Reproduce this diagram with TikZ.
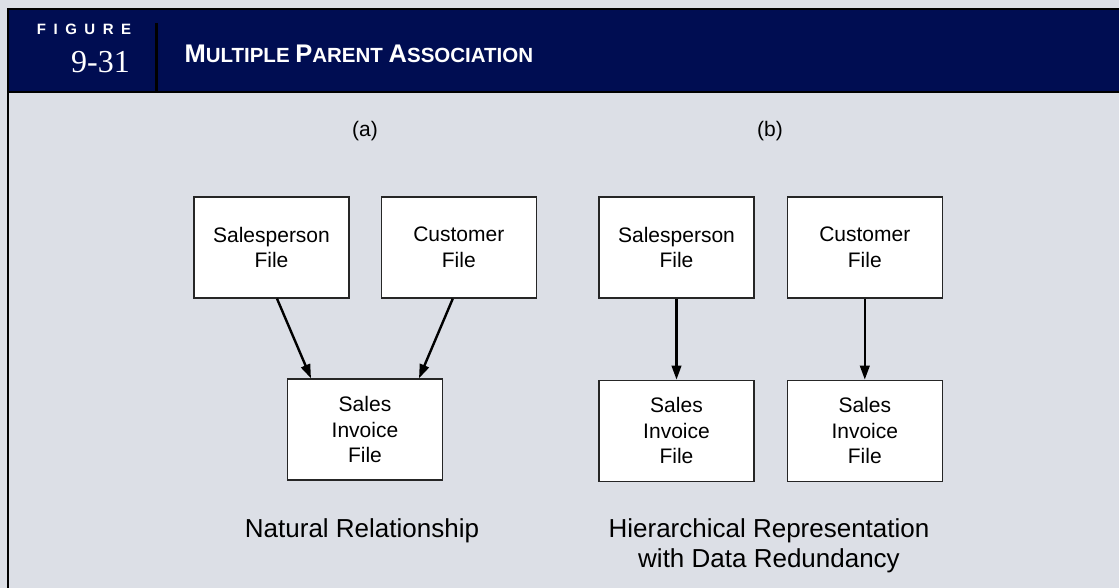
\documentclass[tikz,border=0pt]{standalone}
\usepackage{fontspec}
\setmainfont{Liberation Sans}
\newfontfamily\numfont{Liberation Serif}
\usepackage{tikz}
\usetikzlibrary{positioning, arrows.meta, calc}

\definecolor{pagegray}{RGB}{220,223,230}
\definecolor{headnavy}{RGB}{0,13,82}

\begin{document}
\begin{tikzpicture}[x=1pt, y=-1pt, >={Triangle[length=14pt,width=9.5pt]},
  filebox/.style={draw=black!85, line width=1.3pt, fill=white, minimum width=155pt, minimum height=101pt,
    inner sep=0pt, align=center, font=\fontsize{21}{25.5}\selectfont},
  link/.style={->, line width=2.4pt},
  partlabel/.style={font=\fontsize{21}{25}\selectfont},
  caption/.style={align=center, font=\fontsize{26}{30}\selectfont}]
  % page and header band
  \useasboundingbox (0,0) rectangle (1119,588);
  \fill[pagegray] (0,0) rectangle (1119,588);
  \fill[headnavy] (8,9) rectangle (1119,92);
  \draw[line width=2.5pt] (1119,9) -- (8,9) -- (8,588);
  \draw[line width=2.5pt] (8,92) -- (1119,92);
  \draw[line width=2.5pt] (156.5,23) -- (156.5,92);
  \node[text=white, font=\fontsize{15}{15}\bfseries\addfontfeatures{LetterSpace=50}] (figword) at (84,29) {FIGURE};
  \node[text=white, font=\fontsize{32}{32}\numfont] (fignum) at (100.5,62) {9-31};
  \node[text=white, anchor=west, font=\fontsize{20.5}{20.5}\bfseries] (figtitle) at (181,53.5)
    {{\fontsize{25.5}{25.5}\selectfont M}ULTIPLE {\fontsize{25.5}{25.5}\selectfont P}ARENT {\fontsize{25.5}{25.5}\selectfont A}SSOCIATION};

  % (a) natural relationship
  \node[partlabel] (labA) at (365,131) {(a)};
  \node[filebox] (salesA) at (271.5,247.5) {Salesperson\\File};
  \node[filebox, right=31pt of salesA] (custA) {Customer\\File};
  \node[filebox] (invA) at (365,429.5) {Sales\\Invoice\\File};
  \draw[link] ([xshift=5.5pt]salesA.south) -- ([xshift=-54pt]invA.north);
  \draw[link] ([xshift=-6pt]custA.south) -- ([xshift=54pt]invA.north);
  \node[caption] (capA) at (362,531) {Natural Relationship};

  % (b) hierarchical representation
  \node[partlabel] (labB) at (770,131) {(b)};
  \node[filebox] (salesB) at (676.5,247.5) {Salesperson\\File};
  \node[filebox, right=32pt of salesB] (custB) {Customer\\File};
  \node[filebox, below=81pt of salesB] (invB) {Sales\\Invoice\\File};
  \node[filebox, below=81pt of custB] (invC) {Sales\\Invoice\\File};
  \draw[link] (salesB) -- (invB);
  \draw[link] (custB) -- (invC);
  \node[caption] (capB) at (769,546) {Hierarchical Representation\\with Data Redundancy};
\end{tikzpicture}
\end{document}
